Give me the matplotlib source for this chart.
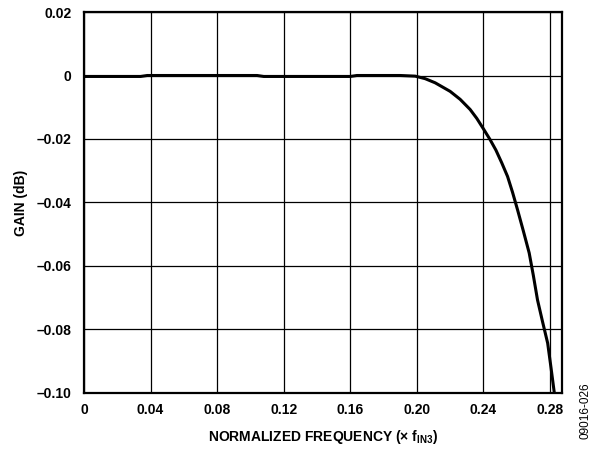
import numpy as np
import matplotlib.pyplot as plt

# --------------------------------------------------
# Data
# --------------------------------------------------
freq = [0.0, 0.034, 0.038, 0.104, 0.108, 0.160, 0.164, 0.190, 0.199,
        0.205, 0.211, 0.220, 0.226, 0.232, 0.236, 0.240, 0.244, 0.2475,
        0.251, 0.2545, 0.2575, 0.2605, 0.264, 0.2675, 0.270, 0.2725,
        0.2755, 0.2786, 0.2806, 0.2826]
gain = [-0.0003, -0.0003, 0.0, 0.0, -0.0003, -0.0003, 0.0, 0.0, -0.0002,
        -0.0010, -0.0023, -0.0050, -0.0075, -0.0107, -0.0135, -0.0168, -0.0202, -0.0235,
        -0.0275, -0.0318, -0.0368, -0.0423, -0.0490, -0.0559, -0.0630, -0.0707,
        -0.0775, -0.0843, -0.0920, -0.1000]

xticks = [0, 0.04, 0.08, 0.12, 0.16, 0.20, 0.24, 0.28]
xtick_labels = ['0', '0.04', '0.08', '0.12', '0.16', '0.20', '0.24', '0.28']
yticks = [-0.10, -0.08, -0.06, -0.04, -0.02, 0, 0.02]
ytick_labels = ['\u20130.10', '\u20130.08', '\u20130.06', '\u20130.04', '\u20130.02', '0', '0.02']

# --------------------------------------------------
# Plot settings
# --------------------------------------------------
plt.rcParams.update({
    'font.family': 'Liberation Sans',
    'font.size': 10,
    'font.weight': 'bold',
    'mathtext.fontset': 'custom',
    'mathtext.rm': 'Liberation Sans:bold',
    'mathtext.bf': 'Liberation Sans:bold',
    'mathtext.it': 'Liberation Sans:bold',
})

fig = plt.figure(figsize=(5.95, 4.53), dpi=100)
ax = fig.add_axes([0.1412, 0.1325, 0.8033, 0.841])

ax.plot(freq, gain, color='black', linewidth=2.2, solid_joinstyle='round')

ax.set_xlim(0, 0.2872)
ax.set_ylim(-0.10, 0.02)
ax.set_xticks(xticks)
ax.set_xticklabels(xtick_labels, fontweight='bold')
ax.set_yticks(yticks)
ax.set_yticklabels(ytick_labels, fontweight='bold')
ax.tick_params(axis='x', length=0, pad=7)
ax.tick_params(axis='y', length=0, pad=9)
ax.grid(True, color='black', linewidth=0.9)
ax.set_axisbelow(True)

for spine in ax.spines.values():
    spine.set_linewidth(1.6)

ax.set_ylabel('GAIN (dB)', fontweight='bold', labelpad=6)
ax.set_xlabel(r'NORMALIZED FREQUENCY (\u00d7 $\mathrm{f_{IN3}}$)'.replace('\\u00d7', '\u00d7'),
              fontweight='bold', labelpad=8)

fig.text(0.984, 0.03, '09016-026', rotation=90, fontsize=8.5, fontweight='normal',
         ha='center', va='bottom')

plt.savefig('out.png', dpi=100)
